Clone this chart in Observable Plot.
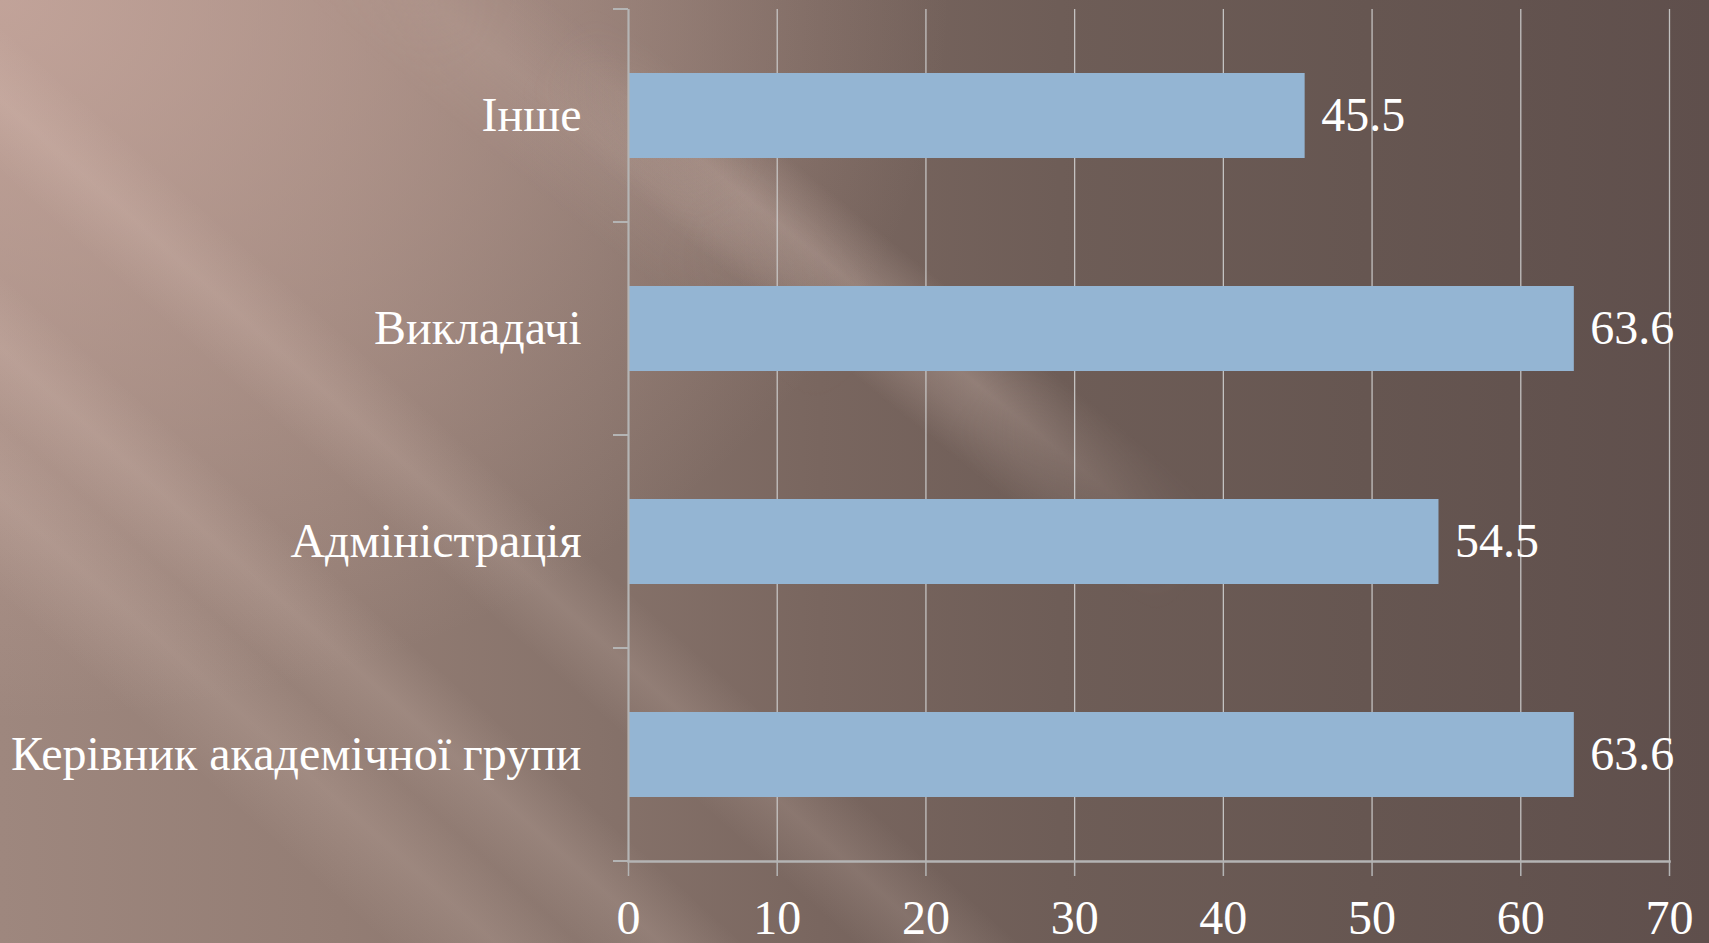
<!DOCTYPE html>
<html>
<head>
<meta charset="utf-8">
<script src="https://cdn.jsdelivr.net/npm/d3@7"></script>
<script src="https://cdn.jsdelivr.net/npm/@observablehq/plot@0.6"></script>
<style>
html, body { margin: 0; padding: 0; }
body {
  width: 1709px; height: 943px; overflow: hidden; position: relative;
  background:
    linear-gradient(42deg,
      rgba(255,232,222,0) 0%,
      rgba(255,232,222,0) 14%,
      rgba(255,232,222,0.12) 18%,
      rgba(255,232,222,0.03) 21%,
      rgba(255,232,222,0.13) 24%,
      rgba(255,232,222,0) 27%,
      rgba(255,232,222,0) 31%,
      rgba(255,232,222,0.12) 34%,
      rgba(255,232,222,0) 37%,
      rgba(255,232,222,0) 100%),
    radial-gradient(ellipse 950px 720px at 0px 0px, rgba(205,172,162,0.75), rgba(205,172,162,0.35) 55%, rgba(205,172,162,0)),
    linear-gradient(90deg, #9e877e 0%, #937d74 20%, #86726a 35%, #79665f 48%, #6e5d57 62%, #665651 80%, #5f4f4c 100%);
}
.streak {
  position: absolute;
  transform-origin: 50% 50%;
  -webkit-mask-image: linear-gradient(to right, transparent 0%, black 30%, black 65%, transparent 100%);
  mask-image: linear-gradient(to right, transparent 0%, black 30%, black 65%, transparent 100%);
}
#s1 {
  left: 455px; top: 245px; width: 840px; height: 130px;
  transform: rotate(39deg);
  background: linear-gradient(to bottom, rgba(240,215,205,0) 0%, rgba(240,215,205,0.26) 45%, rgba(240,215,205,0.16) 70%, rgba(240,215,205,0) 100%);
}
#s2 {
  left: 250px; top: 60px; width: 700px; height: 160px;
  transform: rotate(39deg);
  background: linear-gradient(to bottom, rgba(240,215,205,0) 0%, rgba(240,215,205,0.10) 50%, rgba(240,215,205,0) 100%);
}
#chart { position: absolute; left: 0; top: 0; }
</style>
</head>
<body>
<div class="streak" id="s2"></div>
<div class="streak" id="s1"></div>
<div id="chart"></div>
<script>
const categories = ["Інше", "Викладачі", "Адміністрація", "Керівник академічної групи"];
const values = [45.5, 63.6, 54.5, 63.6];
const xTicks = [0, 10, 20, 30, 40, 50, 60, 70];

const data = categories.map((c, i) => ({category: c, value: values[i]}));

const axisColor = "#b4b4b4";
const fontFamily = "'Liberation Serif', 'Times New Roman', serif";

const chart = Plot.plot({
  width: 1709,
  height: 943,
  marginLeft: 628,
  marginRight: 40,
  marginTop: 9,
  marginBottom: 82,
  style: {background: "transparent", fontFamily, fontSize: "48px", color: "white", overflow: "visible"},
  x: {domain: [0, 70], ticks: xTicks},
  y: {domain: categories, paddingInner: 0.6, paddingOuter: 0.3},
  marks: [
    Plot.gridX(xTicks, {stroke: "#cdcdcd", strokeOpacity: 0.9, strokeWidth: 1.3}),
    Plot.barX(data, {x: "value", y: "category", fill: "#94b5d3"}),
    Plot.text(data, {x: "value", y: "category", text: d => d.value.toFixed(1), dx: 16, textAnchor: "start", fill: "white", fontSize: 48, fontFamily}),
    Plot.ruleX([0], {stroke: axisColor, strokeWidth: 2}),
    Plot.frame({anchor: "bottom", stroke: axisColor, strokeWidth: 2.5}),
    Plot.axisX(xTicks, {tickSize: 15, tickPadding: 23, stroke: axisColor, strokeWidth: 1.5, fill: "white", fontSize: 48, label: null}),
    Plot.axisY({tickSize: 0, tickPadding: 47, fill: "white", fontSize: 48, label: null})
  ]
});

// category boundary ticks on the y axis (Excel-style), derived from the band scale
const ys = chart.scale("y");
const xs = chart.scale("x");
const gap = (ys.step - ys.bandwidth) / 2;
const bounds = ys.domain.map(c => ys.apply(c) - gap);
bounds.push(ys.apply(ys.domain[ys.domain.length - 1]) + ys.bandwidth + gap);
const x0 = xs.apply(0);
const g = d3.select(chart).append("g").attr("stroke", axisColor).attr("stroke-width", 2);
g.selectAll("line").data(bounds).join("line")
  .attr("x1", x0 - 15).attr("x2", x0)
  .attr("y1", d => d).attr("y2", d => d);

document.getElementById("chart").appendChild(chart);
</script>
</body>
</html>
